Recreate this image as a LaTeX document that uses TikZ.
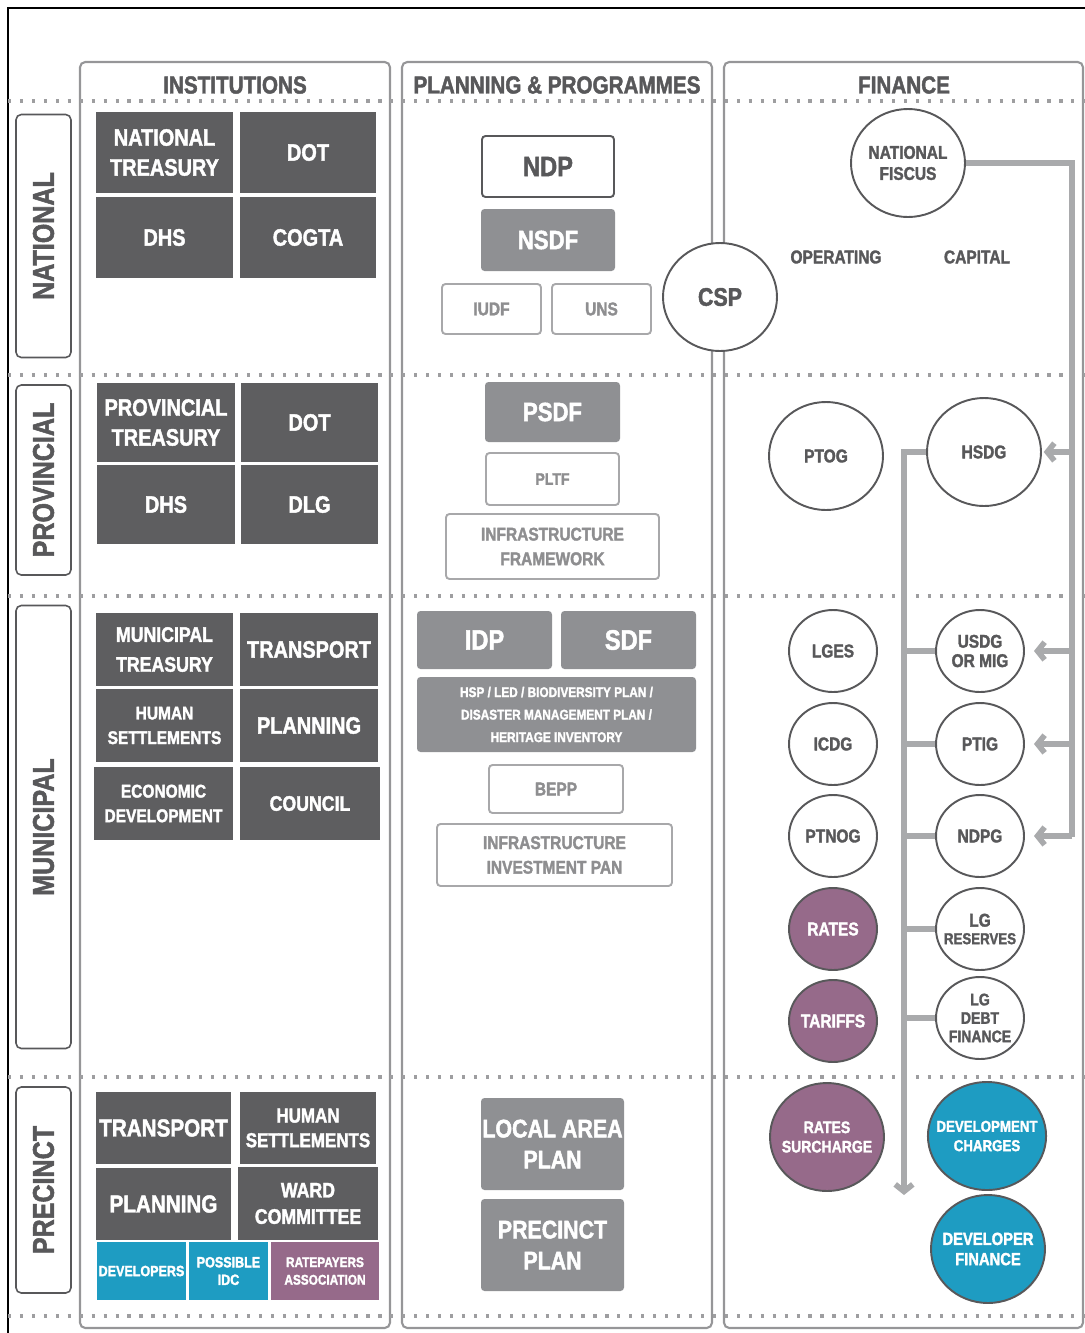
\documentclass[tikz,border=0pt]{standalone}
\usepackage{fontspec}
\setmainfont{Liberation Sans}[UprightFont=* Bold,BoldFont=* Bold,FakeStretch=0.84,FakeBold=1.8]
\usetikzlibrary{shapes.geometric,arrows.meta}

\definecolor{boxdark}{RGB}{94,94,96}
\definecolor{boxmid}{RGB}{143,144,147}
\definecolor{inkgray}{RGB}{88,88,90}
\definecolor{softgray}{RGB}{142,142,144}
\definecolor{linegray}{RGB}{168,168,170}
\definecolor{dotgray}{RGB}{158,158,160}
\definecolor{rulegray}{RGB}{150,150,152}
\definecolor{flowgray}{RGB}{169,170,172}
\definecolor{plum}{RGB}{150,106,138}
\definecolor{devblue}{RGB}{30,156,194}

\newdimen\pxu \pxu=0.02cm
\newcommand\fs[2]{\fontsize{#1}{#2}\selectfont}

\tikzset{
  wh/.style 2 args={minimum width=#1\pxu,minimum height=#2\pxu},
  dbox/.style={fill=boxdark,text=white,inner sep=0pt,align=center},
  mbox/.style={fill=boxmid,text=white,rounded corners=2pt,inner sep=0pt,align=center},
  wbox/.style={draw=inkgray,line width=1.1pt,fill=white,text=inkgray,rounded corners=2pt,inner sep=0pt,align=center},
  lbox/.style={draw=linegray,line width=1.1pt,fill=white,text=softgray,rounded corners=2pt,inner sep=0pt,align=center},
  ring/.style={ellipse,draw=inkgray,line width=1.1pt,fill=white,text=inkgray,inner sep=-5pt,align=center},
  big/.style={wh={114}{108}},
  small/.style={wh={88}{82}},
  head/.style={text=inkgray,font=\fs{14}{17}},
  level/.style={draw=inkgray,line width=.9pt,rounded corners=3pt,rotate=90,text=inkgray,inner sep=0pt,font=\fs{17}{20}},
  panel/.style={draw=rulegray,line width=1.2pt,rounded corners=3pt},
  dotline/.style={draw=dotgray,line width=1.8pt,dash pattern=on 1.8pt off 5pt},
  flow/.style={draw=flowgray,line width=3.2pt},
  tip/.style={-{Straight Barb[length=4pt,width=10pt]}}
}

\begin{document}
\begin{tikzpicture}[x=0.02cm,y=-0.02cm]
\useasboundingbox (0,0) rectangle (1085,1333);

% frame and columns
\draw[black,line width=.6pt] (1090,8) -- (8,8) -- (8,1340);
\draw[panel] (80,62) rectangle (390,1328);
\draw[panel] (402,62) rectangle (712,1328);
\draw[panel] (724,62) rectangle (1083,1328);
\foreach \y in {101,375,596,1077,1316}
  \draw[dotline] (8,\y) -- (1085,\y);

\node[head] (hinst) at (235,85) {INSTITUTIONS};
\node[head] (hplan) at (557,85) {PLANNING \& PROGRAMMES};
\node[head] (hfin) at (904,85) {FINANCE};

% levels
\node[level,wh={243}{55}] (lnat) at (43.5,236) {NATIONAL};
\node[level,wh={190}{55}] (lprov) at (43.5,480) {PROVINCIAL};
\node[level,wh={443}{55}] (lmun) at (43.5,827) {MUNICIPAL};
\node[level,wh={206}{55}] (lprec) at (43.5,1190) {PRECINCT};

% institutions
\node[dbox,wh={137}{81},font=\fs{13.5}{17}] (nt) at (164.5,152.5) {NATIONAL\\TREASURY};
\node[dbox,wh={136}{81},font=\fs{13.5}{17}] (ndot) at (308,152.5) {DOT};
\node[dbox,wh={137}{81},font=\fs{13.5}{17}] (ndhs) at (164.5,237.5) {DHS};
\node[dbox,wh={136}{81},font=\fs{13.5}{17}] (ncogta) at (308,237.5) {COGTA};

\node[dbox,wh={138}{79},font=\fs{13.5}{17}] (pt) at (166,422.5) {PROVINCIAL\\TREASURY};
\node[dbox,wh={137}{79},font=\fs{13.5}{17}] (pdot) at (309.5,422.5) {DOT};
\node[dbox,wh={138}{79},font=\fs{13.5}{17}] (pdhs) at (166,504.5) {DHS};
\node[dbox,wh={137}{79},font=\fs{13.5}{17}] (pdlg) at (309.5,504.5) {DLG};

\node[dbox,wh={137}{73},font=\fs{12}{17}] (mt) at (164.5,649.5) {MUNICIPAL\\TREASURY};
\node[dbox,wh={138}{73},font=\fs{13.5}{17}] (mtrans) at (309,649.5) {TRANSPORT};
\node[dbox,wh={137}{73},font=\fs{10.5}{14}] (mhs) at (164.5,725.5) {HUMAN\\SETTLEMENTS};
\node[dbox,wh={138}{73},font=\fs{13.5}{17}] (mplan) at (309,725.5) {PLANNING};
\node[dbox,wh={139}{73},font=\fs{10.5}{14}] (med) at (163.5,803.5) {ECONOMIC\\DEVELOPMENT};
\node[dbox,wh={140}{73},font=\fs{12}{15}] (mcouncil) at (310,803.5) {COUNCIL};

\node[dbox,wh={135}{72},font=\fs{14}{17}] (ctrans) at (163.5,1128) {TRANSPORT};
\node[dbox,wh={136}{72},font=\fs{11.5}{14}] (chs) at (308,1128) {HUMAN\\SETTLEMENTS};
\node[dbox,wh={135}{72},font=\fs{14}{17}] (cplan) at (163.5,1204) {PLANNING};
\node[dbox,wh={140}{73},font=\fs{12}{15}] (cward) at (308,1203.5) {WARD\\COMMITTEE};
\node[dbox,fill=devblue,wh={89}{58},font=\fs{8.5}{10}] (cdev) at (141.5,1271) {DEVELOPERS};
\node[dbox,fill=devblue,wh={79}{58},font=\fs{8.5}{10}] (cidc) at (228.5,1271) {POSSIBLE\\IDC};
\node[dbox,fill=plum,wh={108}{58},font=\fs{8}{10}] (crate) at (325,1271) {RATEPAYERS\\ASSOCIATION};

% planning & programmes
\node[wbox,wh={132}{61},font=\fs{16}{19}] (ndp) at (548,166.5) {NDP};
\node[mbox,wh={134}{62},font=\fs{15}{18}] (nsdf) at (548,240) {NSDF};
\node[lbox,wh={99}{50},font=\fs{10.5}{13}] (iudf) at (491.5,309) {IUDF};
\node[lbox,wh={99}{50},font=\fs{10.5}{13}] (uns) at (601.5,309) {UNS};
\node[ring,wh={114}{108},font=\fs{14.5}{17}] (csp) at (720,297) {CSP};

\node[mbox,wh={135}{60},font=\fs{15}{18}] (psdf) at (552.5,412) {PSDF};
\node[lbox,wh={133}{52},font=\fs{9.5}{12}] (pltf) at (552.5,479) {PLTF};
\node[lbox,wh={213}{65},font=\fs{10.5}{14}] (infra) at (552.5,546.5) {INFRASTRUCTURE\\FRAMEWORK};

\node[mbox,wh={135}{58},font=\fs{16}{19}] (idp) at (484.5,640) {IDP};
\node[mbox,wh={135}{58},font=\fs{16}{19}] (sdf) at (628.5,640) {SDF};
\node[mbox,wh={279}{75},font=\fs{8}{12.8}] (hsp) at (556.5,714.5)
  {HSP / LED / BIODIVERSITY PLAN /\\DISASTER MANAGEMENT PLAN /\\HERITAGE INVENTORY};
\node[lbox,wh={134}{48},font=\fs{10.5}{13}] (bepp) at (556,789) {BEPP};
\node[lbox,wh={235}{62},font=\fs{10.5}{14}] (iip) at (554.5,855) {INFRASTRUCTURE\\INVESTMENT PAN};

\node[mbox,wh={143}{92},font=\fs{14.5}{17.6}] (lap) at (552.5,1144) {LOCAL AREA\\PLAN};
\node[mbox,wh={143}{92},font=\fs{14.5}{17.6}] (pp) at (552.5,1245) {PRECINCT\\PLAN};

% finance
\node[ring,big,font=\fs{10.5}{12}] (fiscus) at (908,163) {NATIONAL\\FISCUS};
\node[text=inkgray,font=\fs{10.5}{12}] (oper) at (836,257) {OPERATING};
\node[text=inkgray,font=\fs{10.5}{12}] (capit) at (977,257) {CAPITAL};

\node[ring,big,font=\fs{10.5}{12}] (ptog) at (826,456) {PTOG};
\node[ring,big,font=\fs{10.5}{12}] (hsdg) at (984,452) {HSDG};

\node[ring,small,font=\fs{10.5}{12}] (lges) at (833,651) {LGES};
\node[ring,small,font=\fs{10.5}{12}] (icdg) at (833,744) {ICDG};
\node[ring,small,font=\fs{10.5}{12}] (ptnog) at (833,836) {PTNOG};
\node[ring,small,fill=plum,text=white,font=\fs{10.5}{12}] (rates) at (833,929) {RATES};
\node[ring,small,fill=plum,text=white,font=\fs{10.5}{12}] (tariffs) at (833,1021) {TARIFFS};

\node[ring,small,font=\fs{10.5}{11}] (usdg) at (980,651) {USDG\\OR MIG};
\node[ring,small,font=\fs{10.5}{12}] (ptig) at (980,744) {PTIG};
\node[ring,small,font=\fs{10.5}{12}] (ndpg) at (980,836) {NDPG};
\node[ring,small,font=\fs{9}{10}] (lgres) at (980,929) {{\fs{10.5}{10}LG}\\RESERVES};
\node[ring,small,font=\fs{9.5}{10.5}] (lgdebt) at (980,1018) {LG\\DEBT\\FINANCE};

\node[ring,big,fill=plum,text=white,font=\fs{9.5}{11}] (rsur) at (827,1137) {RATES\\SURCHARGE};
\node[ring,big,fill=devblue,text=white,font=\fs{9}{11}] (dch) at (987,1136) {DEVELOPMENT\\CHARGES};
\node[ring,big,fill=devblue,text=white,font=\fs{10}{11.5}] (dfin) at (988,1249) {DEVELOPER\\FINANCE};

% capital grants feed
\coordinate (feedTop) at (1072,163);
\coordinate (feedEnd) at (1072,837);
\draw[flow] (fiscus.east) -- (feedTop) -- (feedEnd);
\draw[flow,tip,shorten >=1pt] (hsdg.east -| feedTop) -- (hsdg.east);
\foreach \g in {usdg,ptig,ndpg}
  \draw[flow,tip,shorten >=9\pxu] (\g.east -| feedTop) -- (\g.east);

% municipal distribution
\coordinate (busTop) at (904,452);
\coordinate (busEnd) at (904,1195);
\draw[flow,tip] (hsdg.west) -- (busTop) -- (busEnd);
\foreach \g in {usdg,ptig,ndpg,lgres,lgdebt}
  \draw[flow] (\g.west) -- (\g.west -| busTop);
\end{tikzpicture}
\end{document}
